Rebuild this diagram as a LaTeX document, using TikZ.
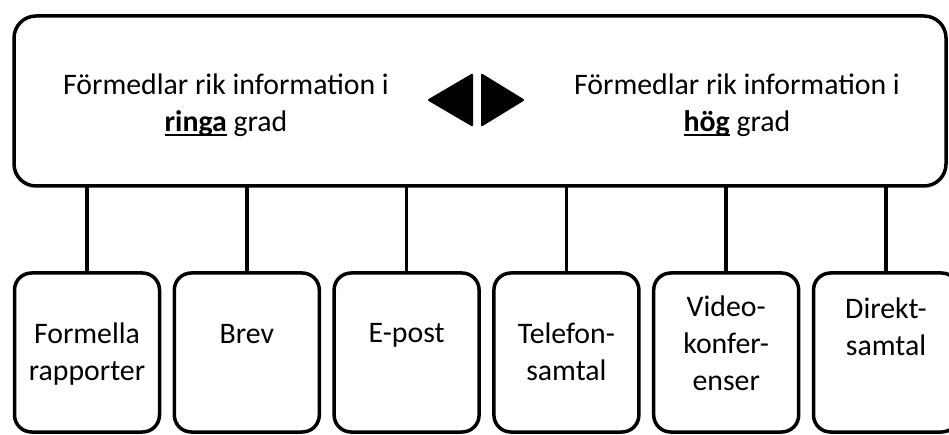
\documentclass[tikz,border=0pt]{standalone}
\usepackage{fontspec}
\setmainfont{Carlito}
\usetikzlibrary{positioning}
\tikzset{
  span/.style={draw,line width=3.5pt,rounded corners=22pt,minimum width=932pt,
    minimum height=170pt,inner sep=0pt,outer sep=0pt},
  medium/.style={draw,line width=3.5pt,rounded corners=17pt,minimum width=145pt,
    minimum height=159pt,inner sep=0pt,outer sep=0pt},
  link/.style={line width=3.5pt},
  lbl/.style={align=center,inner sep=0pt,anchor=base,font=\fontsize{29.8}{37}\selectfont}
}
\newcommand{\emword}[1]{\setbox0\hbox{\bfseries #1}\rlap{\vrule height -2pt depth 4.5pt width \wd0}\box0\relax}

\begin{document}
\begin{tikzpicture}[x=1pt,y=-1pt,node distance=14.8pt]
  \clip (0,0) rectangle (949,435);
  \node[span] (range) at (480,101) {};
  % base of a multi-line label is its last line
  \node[lbl] (low) at (226,132) {Förmedlar rik information i\\\emword{ringa} grad};
  \node[lbl] (high) at (737,132) {Förmedlar rik information i\\\emword{hög} grad};
  \fill[rounded corners=2pt] (473,73) -- (473,127) -- (427,100) -- cycle;
  \fill[rounded corners=2pt] (481,73) -- (481,127) -- (525,100) -- cycle;

  \node[medium] (rapport) at (87,352.5) {};
  \node[medium,right=of rapport] (brev) {};
  \node[medium,right=of brev] (epost) {};
  \node[medium,right=of epost] (telefon) {};
  \node[medium,right=of telefon] (video) {};
  \node[medium,right=of video] (direkt) {};
  \foreach \n in {rapport,brev,epost,telefon,video,direkt}
    \draw[link] (\n.north) -- (\n.north |- range.south);

  \node[lbl] (rapporttxt) at ([yshift=-107pt]rapport.north) {Formella\\rapporter};
  \node[lbl] (brevtxt) at ([yshift=-70pt]brev.north) {Brev};
  \node[lbl] (eposttxt) at ([yshift=-69pt]epost.north) {E-post};
  \node[lbl] (telefontxt) at ([yshift=-107pt]telefon.north) {Telefon-\\samtal};
  \node[lbl] (videotxt) at ([yshift=-117pt]video.north) {Video-\\konfer-\\enser};
  \node[lbl] (direkttxt) at ([yshift=-82pt]direkt.north) {Direkt-\\samtal};
\end{tikzpicture}
\end{document}
